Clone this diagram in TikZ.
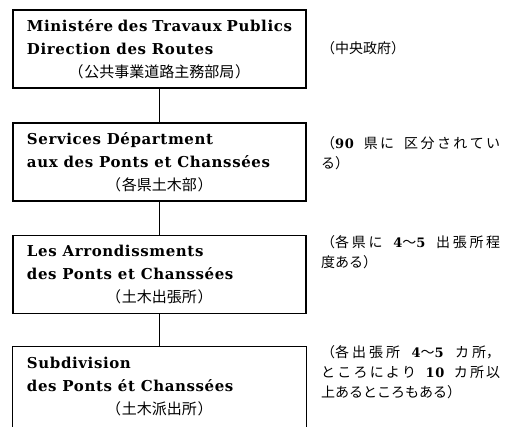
\documentclass[tikz,border=0pt]{standalone}
\usepackage{fontspec}
\setmainfont{DejaVu Serif}[LetterSpace=4]
\newfontfamily\cjk{Noto Sans CJK JP}[LetterSpace=5]
\newfontfamily\cjknote{Noto Sans CJK JP}
\XeTeXlinebreaklocale "ja"
\XeTeXlinebreakskip=0pt plus 1pt
\usetikzlibrary{positioning}

\newcommand{\officetext}[3]{%
  \begin{minipage}{265pt}
    \fontsize{15}{23}\selectfont\bfseries
    #1\\#2\par
    \centering\cjk\mdseries #3\par
  \end{minipage}}
\newcommand{\digits}[1]{{\rmfamily\bfseries\fontsize{13}{20}\selectfont #1}}
\newcommand{\gap}{\hspace{4pt plus 2.5pt}}

\tikzset{
  office/.style={draw, line width=1.1pt, minimum width=293pt, minimum height=78pt, inner sep=0pt},
  remark/.style={anchor=west, inner sep=0pt, font=\cjknote\fontsize{14}{20}\selectfont},
  longremark/.style={remark, text width=179pt, align=justify},
  link/.style={line width=1.1pt},
}

\begin{document}
\begin{tikzpicture}[x=1pt, y=-1pt]
  \useasboundingbox (0,0) rectangle (509,426);

  % offices
  \node[office] (ministry) at (159.5,49)
    {\officetext{Ministére des Travaux Publics}{Direction des Routes}{（公共事業道路主務部局）}};
  \node[office] (service) at (159.5,162)
    {\officetext{Services Départment}{aux des Ponts et Chanssées}{（各県土木部）}};
  \node[office] (arrond) at (159.5,274.5)
    {\officetext{Les Arrondissments}{des Ponts et Chanssées}{（土木出張所）}};
  \node[office, draw=none, minimum height=79pt] (subdiv) at (159.5,386.5)
    {\officetext{Subdivision}{des Ponts ét Chanssées}{（土木派出所）}};
  \draw[link] (subdiv.south west) -- (subdiv.north west) -- (subdiv.north east) -- (subdiv.south east);

  \draw[link] (ministry) -- (service);
  \draw[link] (service) -- (arrond);
  \draw[link] (arrond) -- (subdiv);

  % remarks
  \node[remark] (r1) at (321,48) {（中央政府）};
  \node[longremark] (r2) at (321,153) {（\digits{90}\gap 県に\gap 区分されてい\linebreak る）};
  \node[longremark] (r3) at (321,252) {（各県に\gap\digits{4}〜\digits{5}\gap 出張所程\linebreak 度ある）};
  \node[longremark] (r4) at (321,372) {（各出張所\gap\digits{4}〜\digits{5}\gap カ所，\linebreak ところにより\gap\digits{10}\gap カ所以\linebreak 上あるところもある）};
\end{tikzpicture}
\end{document}
